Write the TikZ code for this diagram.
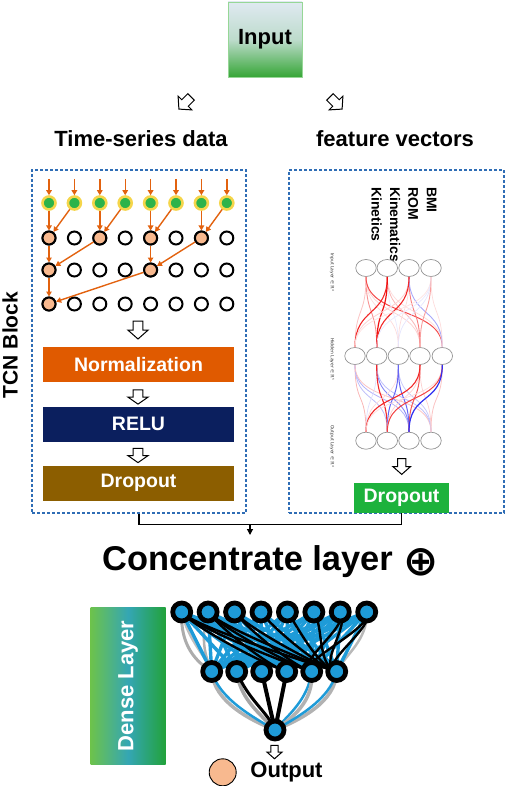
\documentclass[tikz,border=0pt]{standalone}
\usepackage{fontspec}
\setmainfont{Liberation Sans}
\newfontfamily\symfont{DejaVu Sans}
\usetikzlibrary{arrows.meta,shapes.geometric,backgrounds}
\definecolor{dashblue}{HTML}{2F6DB5}
\definecolor{tcnorange}{HTML}{E2620F}
\definecolor{peach}{HTML}{F8B98F}
\definecolor{tgreen}{HTML}{2DB34A}
\definecolor{tyellow}{HTML}{F5D54A}
\definecolor{normorange}{HTML}{E05A00}
\definecolor{navy}{HTML}{0B1F5E}
\definecolor{dropbrown}{HTML}{8C5E00}
\definecolor{dgreen}{HTML}{1DB23C}
\definecolor{nnred}{HTML}{F01010}
\definecolor{nnblue}{HTML}{2525F0}
\definecolor{dblue}{HTML}{1E9BD8}
\definecolor{inputtop}{HTML}{DFE9F1}
\definecolor{inputbot}{HTML}{36A636}
\definecolor{dlleft}{HTML}{6CC24C}
\definecolor{dlmid}{HTML}{34A6B4}
\definecolor{dlright}{HTML}{22A23A}
\tikzset{
  harrow/.pic={\draw[line width=1pt, fill=white, line join=miter] (-4,-7.5) -- (4,-7.5) -- (4,0) -- (8.5,0) -- (0,7.5) -- (-8.5,0) -- (-4,0) -- cycle;},
  dashbox/.style={draw=dashblue, line width=1.1pt, dash pattern=on 3pt off 2pt, inner sep=0pt},
  tcnring/.style={circle, draw=black, line width=2pt, minimum size=13pt, inner sep=0pt},
  tcnpeach/.style={tcnring, fill=peach},
  tcngreen/.style={circle, fill=tgreen, draw=tyellow, line width=2.6pt, minimum size=13pt, inner sep=0pt},
  tarr/.style={tcnorange, line width=1.4pt, -{Triangle[length=5pt,width=5.5pt]}},
  layerbox/.style={minimum width=191pt, minimum height=35pt, inner sep=0pt, text=white, font=\bfseries\fontsize{19.5}{22}\selectfont},
  nncirc/.style={ellipse, draw=gray!85, line width=0.7pt, fill=white, minimum width=20.5pt, minimum height=17pt, inner sep=0pt},
  featlabel/.style={rotate=-90, anchor=west, inner sep=0pt, font=\bfseries\fontsize{14}{16}\selectfont},
  laylabel/.style={rotate=-90, anchor=west, inner sep=0pt, font=\symfont\fontsize{4.5}{5}\selectfont, text=black!80},
  dnode/.style={circle, fill=dblue, draw=black, line width=4.8pt, minimum size=18pt, inner sep=0pt},
  bigtext/.style={font=\bfseries\fontsize{22}{26}\selectfont},
}
\begin{document}
\begin{tikzpicture}[x=1pt,y=-1pt]
\useasboundingbox (0,0) rectangle (505,786);

% Input
\node[draw={rgb,255:red,150;green,215;blue,150}, line width=0.8pt, minimum width=74pt, minimum height=75pt, inner sep=0pt,
  top color=inputtop, bottom color=inputbot, middle color=inputtop!80!inputbot, bigtext] (input) at (265,39.5) {Input};
\pic[rotate=-45, scale=1.15] at (185,103) {harrow};
\pic[rotate=45, scale=1.15] at (336,103) {harrow};

\node[bigtext] (ts) at (141,139) {Time-series data};
\node[bigtext] (fv) at (395,139) {feature vectors};

% dashed boxes
\node[dashbox, minimum width=214pt, minimum height=343pt] (lbox) at (139,341.5) {};
\node[dashbox, minimum width=215pt, minimum height=343pt] (rbox) at (396.5,341.5) {};

\node[rotate=90, font=\bfseries\fontsize{21}{24}\selectfont] (tcn) at (10,345) {TCN Block};

% TCN grid
\foreach \k in {0,...,7}{
  \pgfmathsetmacro{\xx}{49+25.4*\k}
  \node[tcngreen] (a\k) at (\xx,203) {};
  \coordinate (ina\k) at (\xx,179);
  \node[tcnring] (b\k) at (\xx,238) {};
  \node[tcnring] (c\k) at (\xx,270) {};
  \node[tcnring] (d\k) at (\xx,304) {};
}
\foreach \k in {0,2,4,6} \node[tcnpeach] at (b\k) {};
\foreach \k in {0,4} \node[tcnpeach] at (c\k) {};
\node[tcnpeach] at (d0) {};
\foreach \k in {0,...,7} \draw[tarr] (ina\k) -- (a\k);
\foreach \s/\t in {a0/b0,a1/b0,a2/b2,a3/b2,a4/b4,a5/b4,a6/b6,a7/b6,b0/c0,b2/c0,b4/c4,b6/c4,c0/d0,c4/d0}
  \draw[tarr] (\s) -- (\t);

\pic[scale=1.2] at (138,330) {harrow};
\node[layerbox, fill=normorange] (norm) at (138.5,364.5) {Normalization};
\pic[xscale=1.2, yscale=0.95] at (138,397) {harrow};
\node[layerbox, fill=navy] (relu) at (138.5,424.2) {RELU};
\pic[xscale=1.2, yscale=0.95] at (138,455.5) {harrow};
\node[layerbox, fill=dropbrown] (drop) at (138.5,483.3) {Dropout};

% feature labels
\node[featlabel] (lkin) at (376.7,187) {Kinetics};
\node[featlabel] (lkm) at (395,187) {Kinematics};
\node[featlabel] (lrom) at (413.3,187) {ROM};
\node[featlabel] (lbmi) at (431.7,187) {BMI};

% small NN
\foreach \x [count=\k] in {366,387.3,409,431} {
  \node[nncirc] (i\k) at (\x,268) {};
  \node[nncirc] (o\k) at (\x,440.7) {};
}
\foreach \x [count=\k] in {355,376.7,398.3,420,442.3}
  \node[nncirc] (h\k) at (\x,356) {};
\node[laylabel] (lin) at (332,253) {Input Layer ∈ ℝ⁴};
\node[laylabel] (lhid) at (332,338) {Hidden Layer ∈ ℝ⁵};
\node[laylabel] (lout) at (332,425) {Output Layer ∈ ℝ⁴};

\foreach \a/\b/\c/\w in {
 i1/h1/nnred!25/0.8, i1/h2/nnred!45/0.9, i1/h3/nnred!15/0.7, i1/h4/nnred!20/0.7, i1/h5/nnred!75/1.0,
 i2/h1/nnred!90/1.1, i2/h3/nnblue!10/0.7, i2/h4/nnred!30/0.8, i2/h5/nnred!15/0.7, i2/h2/nnred/1.2,
 i3/h1/nnred!20/0.8, i3/h3/nnred!15/0.7, i3/h4/nnred!55/0.9, i3/h5/nnblue!40/0.9, i3/h2/nnred!90/1.1,
 i4/h1/nnred!12/0.7, i4/h2/nnblue!10/0.7, i4/h3/nnblue!12/0.7, i4/h4/nnred!40/0.9, i4/h5/nnred!15/0.7}
  \draw[color=\c, line width=\w pt] (\a.south) .. controls +(0,40) and +(0,-40) .. (\b.north);
\foreach \a/\b/\c/\w in {
 h1/o1/nnred!30/0.8, h1/o2/nnblue!30/0.8, h1/o3/nnblue!35/0.8, h1/o4/nnred!25/0.8,
 h2/o1/nnblue!15/0.7, h2/o3/nnblue!55/0.9, h2/o4/nnblue!30/0.8, h2/o2/nnred!90/1.1,
 h3/o1/nnred!15/0.7, h3/o4/nnblue!25/0.8, h3/o2/nnblue!70/1.0, h3/o3/nnblue!70/1.0,
 h4/o2/nnred!20/0.7, h4/o4/nnred!20/0.7, h4/o3/nnred!70/1.0, h4/o1/nnred!90/1.1,
 h5/o1/nnred!15/0.7, h5/o4/nnred!25/0.8, h5/o2/nnred!80/1.0, h5/o3/nnblue!95/1.2}
  \draw[color=\c, line width=\w pt] (\a.south) .. controls +(0,40) and +(0,-40) .. (\b.north);

\pic[scale=1.05] at (401.7,466.5) {harrow};
\node[minimum width=95pt, minimum height=30pt, inner sep=0pt, fill=dgreen, text=white, font=\bfseries\fontsize{19.5}{22}\selectfont] (gdrop) at (401.5,498) {Dropout};

% concatenation connector
\draw[line width=1.5pt] (lbox.south) -- (139,524.5) -| (gdrop.south);
\coordinate (jn) at (250,524.5);
\coordinate (jt) at (250,535);
\draw[line width=1.2pt, -{Triangle[length=6pt,width=6pt]}] (jn) -- (jt);

\node[font=\bfseries\fontsize{34.4}{38}\selectfont] (concat) at (247.5,562) {Concentrate layer};
\node[font=\symfont\bfseries\fontsize{42}{44}\selectfont, inner sep=0pt] (oplus) at (421,562) {⊕};

% Dense layer box
\node[minimum width=75pt, minimum height=157pt, inner sep=0pt, left color=dlleft, right color=dlright, middle color=dlmid] (dlbox) at (128.2,685.5) {};
\node[rotate=90, text=white, font=\bfseries\fontsize{22}{26}\selectfont] (dltext) at (128.2,686) {Dense Layer};

% dense network
\foreach \k in {1,...,8} \node[dnode] (T\k) at ({181.7+26.43*(\k-1)},612) {};
\foreach \k in {1,...,6} \node[dnode] (M\k) at ({211.7+25*(\k-1)},671.5) {};
\node[dnode] (B) at (275,730) {};
\begin{pgfonlayer}{background}
  % top to middle
  \draw[gray!65, line width=3pt] (T1.center) .. controls (180,645) and (196,662) .. (M1.center);
  \draw[gray!50, line width=2.5pt] (T1.center) .. controls (188,640) and (205,655) .. (M1.center);
  \draw[gray!60, line width=2.5pt] (T2.center) .. controls (200,640) and (205,655) .. (M1.center);
  \draw[gray!55, line width=2.5pt] (T8.center) .. controls (368,640) and (345,655) .. (M6.center);
  \foreach \i in {1,...,8} \foreach \j in {1,...,6}
    \draw[dblue, line width=3.4pt] (T\i.center) -- (M\j.center);
  \foreach \i/\j in {1/6,2/6,3/6,4/6,5/6,6/6,7/6,8/6,1/5,2/5,3/5,8/5,1/4,2/4,7/5}
    \draw[black, line width=2.4pt] (T\i.center) .. controls +(10,14) and +(-20,-6) .. (M\j.center);
  % middle to bottom
  \draw[gray!60, line width=3.5pt] (M1.center) .. controls (214,702) and (250,720) .. (B.center);
  \draw[dblue, line width=2.5pt] (M1.center) .. controls (220,700) and (255,718) .. (B.center);
  \draw[gray!70, line width=3.5pt] (M2.center) .. controls (240,700) and (262,715) .. (B.center);
  \draw[dblue, line width=2.5pt] (M5.center) .. controls (308,700) and (288,715) .. (B.center);
  \draw[gray!60, line width=3.5pt] (M5.center) .. controls (314,702) and (292,718) .. (B.center);
  \draw[gray!60, line width=3.5pt] (M6.center) .. controls (336,702) and (300,720) .. (B.center);
  \draw[dblue, line width=2.5pt] (M6.center) .. controls (330,700) and (296,718) .. (B.center);
  \foreach \j in {3,4} \draw[black, line width=4pt] (M\j.center) -- (B.center);
  \draw[black, line width=3pt] (M2.center) .. controls (248,700) and (268,712) .. (B.center);
\end{pgfonlayer}

\pic[scale=0.9] at (274.5,752) {harrow};
\node[circle, fill=peach, draw=black, line width=0.9pt, minimum size=27pt, inner sep=0pt] (outc) at (222.7,772.3) {};
\node[bigtext] (outt) at (286.5,772.3) {Output};
\end{tikzpicture}
\end{document}
